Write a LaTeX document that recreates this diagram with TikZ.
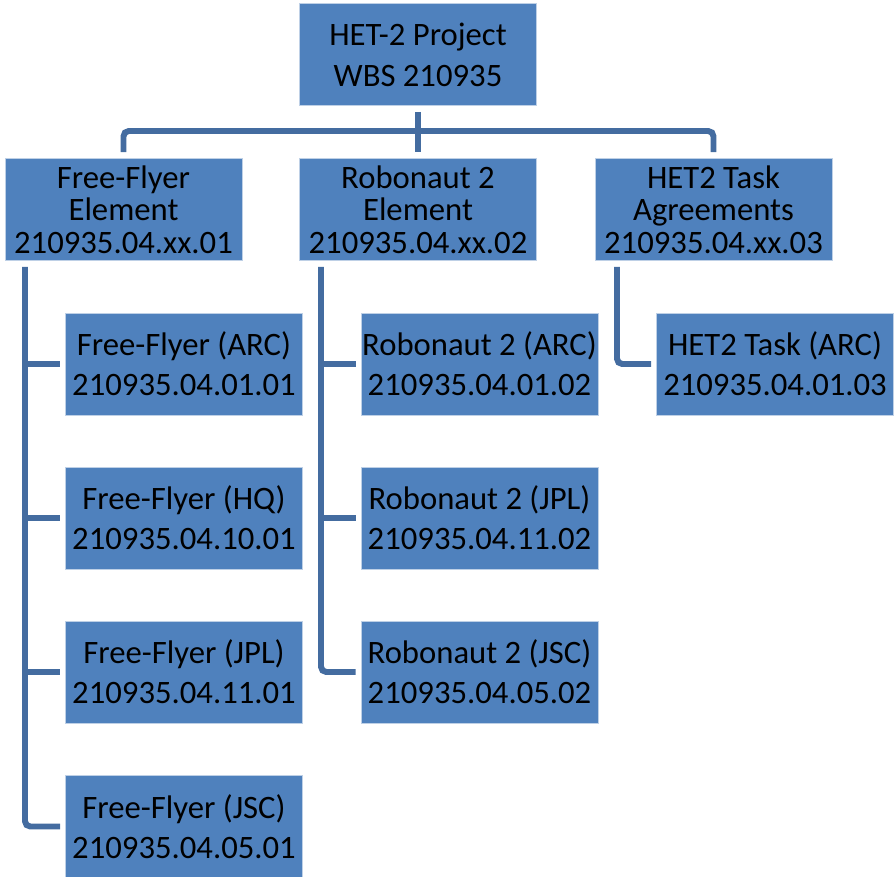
\documentclass[tikz,border=0pt]{standalone}
\usepackage{fontspec}
\setmainfont{Carlito}
\usepackage{tikz}
\usetikzlibrary{calc}
\definecolor{wbsblue}{RGB}{79, 129, 189}
\definecolor{wbsline}{RGB}{68, 108, 160}
\definecolor{wbsedge}{RGB}{190, 208, 230}
\tikzstyle{wbs} = [rectangle, draw=wbsedge, fill=wbsblue, line width=0.4pt, minimum width=4.74cm, minimum height=2.04cm, inner sep=0pt, align=center, font=\fontsize{18.6}{22.6}\selectfont]
\tikzstyle{wbsmid} = [wbs, font=\fontsize{18.6}{18.4}\selectfont]
\tikzstyle{link} = [draw=wbsline, line width=3.4pt, rounded corners=3pt, shorten <=0.12cm, shorten >=0.12cm]

\begin{document}
\begin{tikzpicture}[x=0.02cm, y=-0.02cm]
    \useasboundingbox (0,0) rectangle (894,877);

    % Project
    \node[wbs, font=\fontsize{18.6}{23.4}\selectfont] (proj) at (418,54.5) {HET-2 Project\\WBS 210935};

    % Elements
    \node[wbsmid] (ffel) at (123.5,209.5) {Free-Flyer\\Element\\210935.04.xx.01};
    \node[wbsmid] (r2el) at (418,209.5) {Robonaut 2\\Element\\210935.04.xx.02};
    \node[wbsmid] (taskel) at (713.5,209.5) {HET2 Task\\Agreements\\210935.04.xx.03};

    % Free-Flyer centers
    \node[wbs] (ffarc) at (184,364) {Free-Flyer (ARC)\\210935.04.01.01};
    \node[wbs] (ffhq) at (184,518) {Free-Flyer (HQ)\\210935.04.10.01};
    \node[wbs] (ffjpl) at (184,672) {Free-Flyer (JPL)\\210935.04.11.01};
    \node[wbs] (ffjsc) at (184,826.5) {Free-Flyer (JSC)\\210935.04.05.01};

    % Robonaut 2 centers
    \node[wbs] (r2arc) at (479.5,364) {Robonaut 2 (ARC)\\210935.04.01.02};
    \node[wbs] (r2jpl) at (479.5,518) {Robonaut 2 (JPL)\\210935.04.11.02};
    \node[wbs] (r2jsc) at (479.5,672) {Robonaut 2 (JSC)\\210935.04.05.02};

    % HET2 task
    \node[wbs] (taskarc) at (775,364) {HET2 Task (ARC)\\210935.04.01.03};

    % top bus
    \coordinate (bus) at (418,131);
    \draw[link, shorten >=0pt] (proj.south) -- (bus);
    \draw[link] (ffel.north) |- (bus) -| (taskel.north);
    \draw[link, shorten <=0pt] (bus) -- (r2el.north);

    % spines
    \coordinate (ffspine) at (25,0);
    \coordinate (r2spine) at (321,0);
    \coordinate (taskspine) at (617,0);
    \draw[link, shorten >=0.1cm] (ffel.south -| ffspine) |- (ffjsc.west);
    \foreach \n in {ffarc, ffhq, ffjpl}
        \draw[link, shorten <=0pt, shorten >=0.1cm] (\n.west -| ffspine) -- (\n.west);
    \draw[link, shorten >=0.1cm] (r2el.south -| r2spine) |- (r2jsc.west);
    \foreach \n in {r2arc, r2jpl}
        \draw[link, shorten <=0pt, shorten >=0.1cm] (\n.west -| r2spine) -- (\n.west);
    \draw[link, shorten >=0.1cm] (taskel.south -| taskspine) |- (taskarc.west);
\end{tikzpicture}
\end{document}
